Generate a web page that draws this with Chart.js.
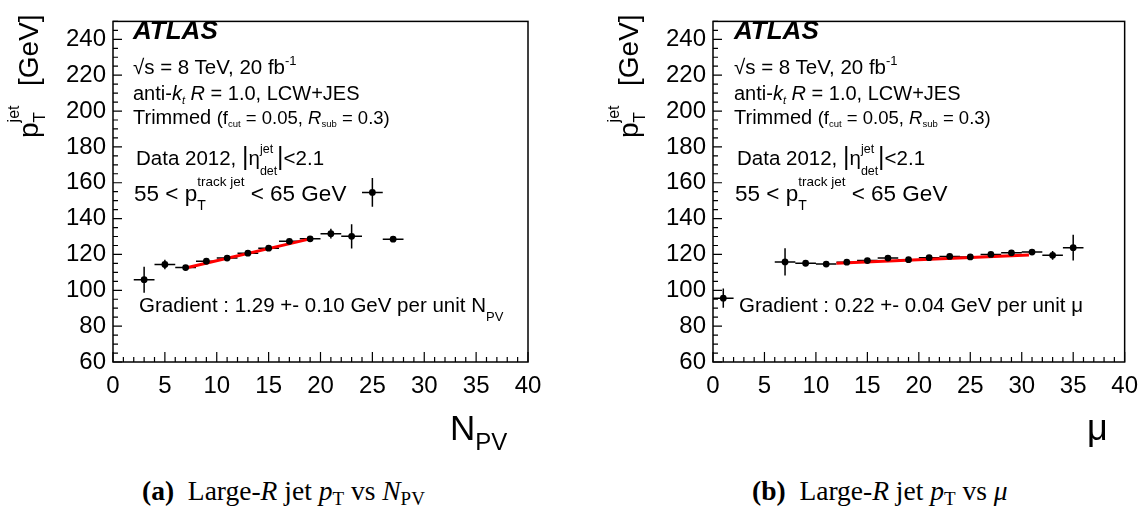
<!DOCTYPE html>
<html>
<head>
<meta charset="utf-8">
<script src="https://cdn.jsdelivr.net/npm/chart.js@4.4.1/dist/chart.umd.min.js"></script>
<style>
  body { margin: 0; background: #fff; }
  #page { position: relative; width: 1148px; height: 507px; overflow: hidden; font-family: "Liberation Sans", Arial, sans-serif; color: #000; }
  .panel { position: absolute; top: 0; }
  .t { position: absolute; white-space: nowrap; line-height: 1; }
  .up { position: relative; }
  .st { position: relative; }
  .st .lo { position: absolute; left: 0; line-height: 1; }
  .rot { transform-origin: 0 0; transform: rotate(-90deg); }
  .cap { font-family: "Liberation Serif", "Times New Roman", serif; font-size: 27.5px; }
</style>
</head>
<body>
<div id="page">
  <canvas id="npvChart" class="panel" style="left:0" width="574" height="420"></canvas>
  <canvas id="muChart" class="panel" style="left:574px" width="574" height="420"></canvas>

  <!-- left panel labels -->
  <div class="t" style="left:133px;top:17px;font-size:26px;font-weight:bold;font-style:italic">ATLAS</div>
  <div class="t" style="left:133px;top:57px;font-size:20.5px">√s = 8 TeV, 20 fb<span class="up" style="font-size:13px;top:-9px">-1</span></div>
  <div class="t" style="left:133px;top:83px;font-size:20px">anti-<i>k</i><span class="up" style="font-size:11px;top:4px"><i>t</i></span> <i>R</i> = 1.0, LCW+JES</div>
  <div class="t" style="left:133px;top:107px;font-size:20px">Trimmed <span style="font-size:18.5px">(f<span class="up" style="font-size:9.5px;top:3px">cut</span> = 0.05, <i>R</i><span class="up" style="font-size:9.5px;top:3px">sub</span> = 0.3)</span></div>
  <div class="t" style="left:136px;top:144px;font-size:20.5px">Data 2012, <span style="font-size:25px">|</span>η<span class="st" style="margin-right:4px"><span class="up" style="font-size:12.5px;top:-12px">jet</span><span class="lo" style="font-size:12.5px;top:19px">det</span></span><span style="font-size:25px">|</span>&lt;2.1</div>
  <div class="t" style="left:134px;top:183px;font-size:22.5px">55 &lt; p<span class="st"><span class="up" style="font-size:13.5px;top:-15px">track jet</span><span class="lo" style="font-size:14px;top:17px">T</span></span> &lt; 65 GeV</div>
  <div class="t" style="left:139px;top:295px;font-size:20.5px">Gradient : 1.29 +- 0.10 GeV per unit N<span class="up" style="font-size:13px;top:9px">PV</span></div>
  <div class="t rot" style="left:15px;top:138px;font-size:28px">p<span class="st"><span class="up" style="font-size:16px;top:-19px">jet</span><span class="lo" style="font-size:17px;top:18px">T</span></span></div>
  <div class="t rot" style="left:15px;top:86px;font-size:28px">[GeV]</div>
  <div class="t" style="left:450px;top:410px;font-size:35px">N<span class="up" style="font-size:24px;top:10px">PV</span></div>

  <!-- right panel labels -->
  <div class="t" style="left:734px;top:17px;font-size:26px;font-weight:bold;font-style:italic">ATLAS</div>
  <div class="t" style="left:734px;top:57px;font-size:20.5px">√s = 8 TeV, 20 fb<span class="up" style="font-size:13px;top:-9px">-1</span></div>
  <div class="t" style="left:734px;top:83px;font-size:20px">anti-<i>k</i><span class="up" style="font-size:11px;top:4px"><i>t</i></span> <i>R</i> = 1.0, LCW+JES</div>
  <div class="t" style="left:734px;top:107px;font-size:20px">Trimmed <span style="font-size:18.5px">(f<span class="up" style="font-size:9.5px;top:3px">cut</span> = 0.05, <i>R</i><span class="up" style="font-size:9.5px;top:3px">sub</span> = 0.3)</span></div>
  <div class="t" style="left:737px;top:144px;font-size:20.5px">Data 2012, <span style="font-size:25px">|</span>η<span class="st" style="margin-right:4px"><span class="up" style="font-size:12.5px;top:-12px">jet</span><span class="lo" style="font-size:12.5px;top:19px">det</span></span><span style="font-size:25px">|</span>&lt;2.1</div>
  <div class="t" style="left:735px;top:183px;font-size:22.5px">55 &lt; p<span class="st"><span class="up" style="font-size:13.5px;top:-15px">track jet</span><span class="lo" style="font-size:14px;top:17px">T</span></span> &lt; 65 GeV</div>
  <div class="t" style="left:739px;top:295px;font-size:20.5px">Gradient : 0.22 +- 0.04 GeV per unit μ</div>
  <div class="t rot" style="left:615px;top:138px;font-size:28px">p<span class="st"><span class="up" style="font-size:16px;top:-19px">jet</span><span class="lo" style="font-size:17px;top:18px">T</span></span></div>
  <div class="t rot" style="left:615px;top:86px;font-size:28px">[GeV]</div>
  <div class="t" style="left:1087px;top:410px;font-size:36px">μ</div>

  <!-- captions -->
  <div class="t cap" style="left:142px;top:477px"><b>(a)</b>&nbsp; Large-<i>R</i> jet <i>p</i><span class="up" style="font-size:19px;top:5px">T</span> vs <i>N</i><span class="up" style="font-size:19px;top:5px">PV</span></div>
  <div class="t cap" style="left:752px;top:477px"><b>(b)</b>&nbsp; Large-<i>R</i> jet <i>p</i><span class="up" style="font-size:19px;top:5px">T</span> vs <i>μ</i></div>
</div>

<script>
// pT vs number of primary vertices
const npvBins = [3, 5, 7, 9, 11, 13, 15, 17, 19, 21, 23, 25, 27];
const npvPt = [105.9, 114.4, 112.7, 116.2, 118.0, 120.7, 123.5, 127.3, 128.7, 131.6, 130.1, 154.6, 128.5];
const npvErr = [7.2, 2.7, 0.8, 0.8, 0.8, 0.8, 0.8, 0.8, 0.8, 2.7, 6.8, 8.0, 1.0];
const npvFitX = [7, 19];
const npvFitPt = [112.4, 128.7];

// pT vs average interactions per crossing
const muBins = [1, 7, 9, 11, 13, 15, 17, 19, 21, 23, 25, 27, 29, 31, 33, 35];
const muPt = [95.6, 115.8, 115.1, 114.6, 115.7, 116.6, 118.0, 117.1, 118.2, 118.9, 118.6, 120.0, 120.9, 121.3, 119.5, 123.8];
const muErr = [5.4, 7.6, 0.9, 0.9, 0.9, 0.9, 0.9, 0.9, 0.9, 0.9, 0.9, 0.9, 0.9, 0.9, 2.4, 7.2];
const muFitX = [12, 30.7];
const muFitPt = [115.1, 119.7];

const binHalfWidth = 1;
const xTicks = [0, 5, 10, 15, 20, 25, 30, 35, 40];
const yTicks = [60, 80, 100, 120, 140, 160, 180, 200, 220, 240];

const FONT = '"Liberation Sans", Arial, sans-serif';

// error bars go under the markers
const errorBars = {
    id: 'errorBars',
    beforeDatasetsDraw(chart) {
        const { ctx, scales: { x, y } } = chart;
        const ds = chart.data.datasets[1];
        ctx.save();
        ctx.strokeStyle = '#000';
        ctx.lineWidth = 1.5;
        ctx.beginPath();
        ds.data.forEach((p, i) => {
            const px = x.getPixelForValue(p.x);
            const py = y.getPixelForValue(p.y);
            ctx.moveTo(x.getPixelForValue(p.x - ds.errX), py);
            ctx.lineTo(x.getPixelForValue(p.x + ds.errX), py);
            ctx.moveTo(px, y.getPixelForValue(p.y - ds.errY[i]));
            ctx.lineTo(px, y.getPixelForValue(p.y + ds.errY[i]));
        });
        ctx.stroke();
        ctx.restore();
    }
};

// ROOT style frame with inward ticks on left and bottom
const rootFrame = {
    id: 'rootFrame',
    afterDatasetsDraw(chart) {
        const { ctx, chartArea: a, scales: { x, y } } = chart;
        ctx.save();
        ctx.strokeStyle = '#000';
        ctx.lineWidth = 1.5;
        ctx.strokeRect(a.left, a.top, a.right - a.left, a.bottom - a.top);
        ctx.lineWidth = 1.2;
        ctx.beginPath();
        for (let v = x.min; v <= x.max; v += 1) {
            const px = x.getPixelForValue(v);
            const len = xTicks.includes(v) ? 10 : 5;
            ctx.moveTo(px, a.bottom);
            ctx.lineTo(px, a.bottom - len);
        }
        for (let v = y.min; v <= y.max; v += 5) {
            const py = y.getPixelForValue(v);
            const len = yTicks.includes(v) ? 9 : 5;
            ctx.moveTo(a.left, py);
            ctx.lineTo(a.left + len, py);
        }
        ctx.stroke();
        ctx.restore();
    }
};

function pts(xs, ys) {
    return xs.map((v, i) => ({ x: v, y: ys[i] }));
}

function makePanel(id, bins, pt, err, fitX, fitPt, axisWidth, padRight) {
    return new Chart(document.getElementById(id), {
        type: 'scatter',
        data: {
            datasets: [
                {
                    data: pts(fitX, fitPt),
                    showLine: true,
                    borderColor: '#ff0000',
                    borderWidth: 3,
                    pointRadius: 0,
                    order: 2
                },
                {
                    data: pts(bins, pt),
                    errY: err,
                    errX: binHalfWidth,
                    backgroundColor: '#000',
                    borderColor: '#000',
                    borderWidth: 0,
                    pointRadius: 3.4,
                    order: 1
                }
            ]
        },
        options: {
            responsive: false,
            animation: false,
            devicePixelRatio: 1,
            layout: { padding: { left: 0, top: 12, right: padRight, bottom: 0 } },
            plugins: { legend: { display: false }, tooltip: { enabled: false } },
            scales: {
                x: {
                    type: 'linear',
                    min: 0,
                    max: 40,
                    grid: { display: false, drawTicks: false },
                    border: { display: false },
                    afterBuildTicks: s => { s.ticks = xTicks.map(v => ({ value: v })); },
                    afterFit: s => { s.height = 58; },
                    ticks: { font: { family: FONT, size: 24 }, color: '#000', padding: 10, maxRotation: 0, autoSkip: false }
                },
                y: {
                    type: 'linear',
                    min: 60,
                    max: 250,
                    grid: { display: false, drawTicks: false },
                    border: { display: false },
                    afterBuildTicks: s => { s.ticks = yTicks.map(v => ({ value: v })); },
                    afterFit: s => { s.width = axisWidth; },
                    ticks: { font: { family: FONT, size: 24 }, color: '#000', padding: 7, autoSkip: false }
                }
            }
        },
        plugins: [errorBars, rootFrame]
    });
}

makePanel('npvChart', npvBins, npvPt, npvErr, npvFitX, npvFitPt, 113, 46);
makePanel('muChart', muBins, muPt, muErr, muFitX, muFitPt, 139, 20);
</script>
</body>
</html>
